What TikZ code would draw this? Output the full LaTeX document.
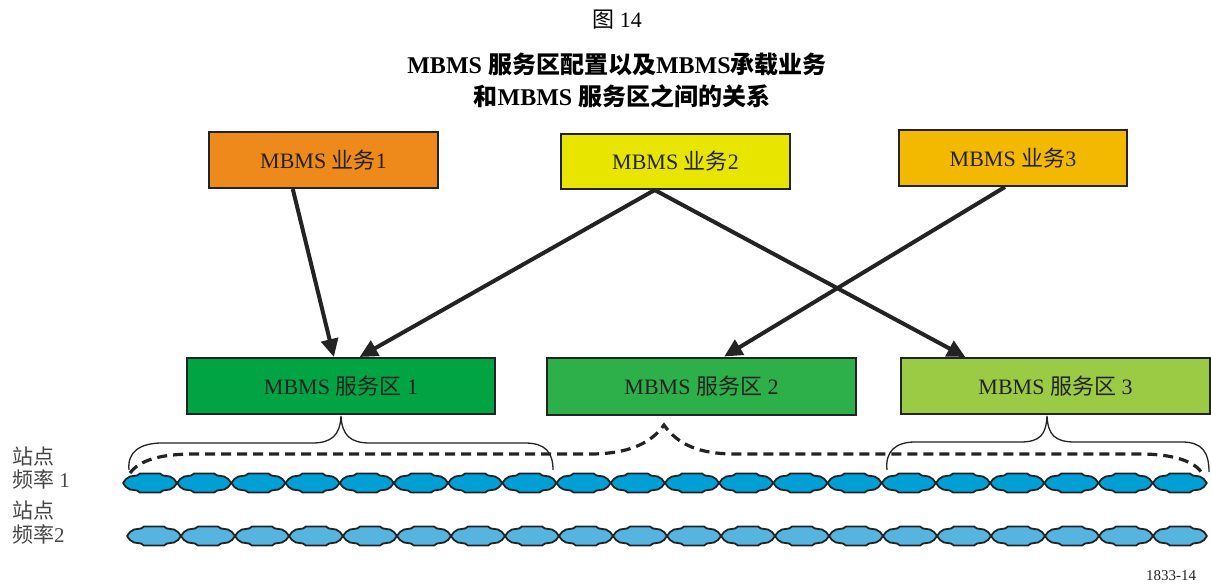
\documentclass[tikz,border=0pt]{standalone}
\usepackage{fontspec}
\setmainfont{Liberation Serif}
\newfontfamily\cjk{Noto Sans CJK SC}
\usetikzlibrary{arrows.meta,calc}
\definecolor{cOrange}{RGB}{238,138,27}
\definecolor{cYellow}{RGB}{232,230,0}
\definecolor{cAmber}{RGB}{242,185,0}
\definecolor{cGreenA}{RGB}{0,164,67}
\definecolor{cGreenB}{RGB}{45,176,74}
\definecolor{cGreenC}{RGB}{155,203,69}
\definecolor{cCellA}{RGB}{0,160,214}
\definecolor{cCellB}{RGB}{85,180,224}
\definecolor{cInk}{RGB}{35,35,35}
\definecolor{cTxt}{RGB}{70,70,70}
\begin{document}
\begin{tikzpicture}[x=1pt,y=-1pt,
  box/.style={draw=cInk, line width=2pt, inner sep=0pt, text=cInk,
    font=\fontsize{22}{24}\selectfont},
  arr/.style={draw=cInk, line width=4pt, -{Triangle[length=18pt,width=17pt]}},
  sbrace/.style={draw=cInk, line width=1.3pt},
  dbrace/.style={draw=cInk, line width=3.2pt, dash pattern=on 10pt off 6pt},
  celloutline/.style={draw=cInk, line width=1.8pt, line join=round},
  lbl/.style={anchor=west, inner sep=0pt, text=cTxt, font=\fontsize{21}{22}\selectfont},
  cell/.pic={\path[celloutline, pic actions] (0,0) -- (3,-4) -- (7,-6.5) -- (14,-7.5) -- (17,-9.5) -- (37,-9.5) -- (40,-7.5) -- (47,-6.5) -- (51,-4) -- (54,0) -- (51,4) -- (47,6.5) -- (40,7.5) -- (37,9.5) -- (17,9.5) -- (14,7.5) -- (7,6.5) -- (3,4) -- cycle;}
]
\useasboundingbox (0,0) rectangle (1211,584);

% titles
\node (fig) at (617,20) {\fontsize{22}{24}\selectfont{\cjk 图} 14};
\node (t1) at (617,64) {\fontsize{24}{26}\selectfont\bfseries MBMS {\cjk\bfseries 服务区配置以及}MBMS{\cjk\bfseries 承载业务}};
\node (t2) at (622,96) {\fontsize{24}{26}\selectfont\bfseries {\cjk\bfseries 和}MBMS {\cjk\bfseries 服务区之间的关系}};

% service boxes
\node[box, fill=cOrange, minimum width=229pt, minimum height=56pt] (s1) at (323.5,160) {MBMS {\cjk 业务}1};
\node[box, fill=cYellow, minimum width=229pt, minimum height=55pt] (s2) at (675.5,161.5) {MBMS {\cjk 业务}2};
\node[box, fill=cAmber, minimum width=228pt, minimum height=56pt] (s3) at (1013,158) {MBMS {\cjk 业务}3};

% service area boxes
\node[box, fill=cGreenA, minimum width=308pt, minimum height=56pt] (z1) at (341,386) {MBMS {\cjk 服务区} 1};
\node[box, fill=cGreenB, minimum width=309pt, minimum height=57pt] (z2) at (701.5,386) {MBMS {\cjk 服务区} 2};
\node[box, fill=cGreenC, minimum width=309pt, minimum height=56pt] (z3) at (1055.5,386) {MBMS {\cjk 服务区} 3};

% arrows
\draw[arr] ($(s1.south west)!0.367!(s1.south east)$) -- ($(z1.north west)!0.477!(z1.north east)$);
\draw[arr] ($(s2.south west)!0.41!(s2.south east)$) -- ($(z1.north west)!0.56!(z1.north east)$);
\draw[arr] ($(s2.south west)!0.41!(s2.south east)$) -- ($(z3.north west)!0.21!(z3.north east)$);
\draw[arr] ($(s3.south west)!0.465!(s3.south east)$) -- ($(z2.north west)!0.573!(z2.north east)$);

% braces
\draw[sbrace] (129,470) .. controls (127,452) and (140,443) .. (162,443) -- (312,443) .. controls (332,443) and (340,435) .. (341,416)
  .. controls (342,435) and (350,443) .. (370,443) -- (525,443) .. controls (545,443) and (553,452) .. (553,470);
\draw[sbrace] (887,470) .. controls (885,452) and (895,442) .. (915,442) -- (1020,442) .. controls (1040,442) and (1046,435) .. (1047,416)
  .. controls (1048,435) and (1055,442) .. (1075,442) -- (1182,442) .. controls (1202,442) and (1209,452) .. (1209,472);
\draw[dbrace] (130,473) .. controls (140,460) and (160,454) .. (195,454) -- (590,454) .. controls (625,454) and (650,445) .. (664,425)
  .. controls (678,445) and (700,454) .. (735,454) -- (1140,454) .. controls (1175,454) and (1195,462) .. (1202,473);

% cells
\foreach \i in {0,...,19} \pic[fill=cCellA] at ({123+54.2*\i},483) {cell};
\foreach \i in {0,...,19} \pic[fill=cCellB] at ({127+54*\i},536) {cell};

% labels
\node[lbl] (l1) at (12,456) {\cjk 站点};
\node[lbl] (l2) at (12,479) {{\cjk 频率} 1};
\node[lbl] (l3) at (12,510) {\cjk 站点};
\node[lbl] (l4) at (12,534) {{\cjk 频率}2};

\node[inner sep=0pt, font=\fontsize{15}{16}\selectfont, text=cInk] (code) at (1171,576) {1833-14};
\end{tikzpicture}
\end{document}
